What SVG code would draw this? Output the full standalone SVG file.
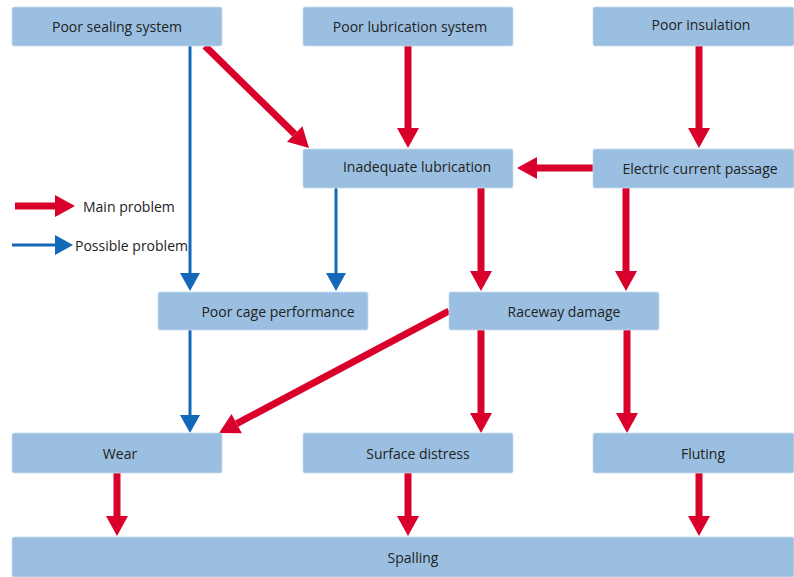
<svg xmlns="http://www.w3.org/2000/svg" width="794" height="577" viewBox="0 0 794 577">
<defs>
<marker id="hr" markerUnits="userSpaceOnUse" markerWidth="20" markerHeight="22" refX="0" refY="11" orient="auto" overflow="visible"><path d="M0,0 L20,11 L0,22 Z" fill="#d9002b"/></marker>
<marker id="hb" markerUnits="userSpaceOnUse" markerWidth="18" markerHeight="20" refX="0" refY="10" orient="auto" overflow="visible"><path d="M0,0 L18,10 L0,20 Z" fill="#1468b8"/></marker>
</defs>
<style>
.box{fill:#9bbfe0;stroke:#c7dbef;stroke-width:0.8}
.t{font-family:"Open Sans","Liberation Sans",sans-serif;font-size:14px;fill:#222;text-anchor:middle}
.lt{font-family:"Open Sans","Liberation Sans",sans-serif;font-size:14px;fill:#222}
.r{stroke:#d9002b;stroke-width:7;fill:none;marker-end:url(#hr)}
.b{stroke:#1468b8;stroke-width:3;fill:none;marker-end:url(#hb)}
</style>
<rect width="794" height="577" fill="#fff"/>
<g id="connectors">
<line class="b" x1="190" y1="46" x2="190" y2="273"/>
<line class="b" x1="336" y1="188" x2="336" y2="273"/>
<line class="b" x1="190" y1="330" x2="190" y2="415"/>
<line class="r" x1="205" y1="46" x2="294.7" y2="134"/>
<line class="r" x1="408" y1="46" x2="408" y2="128"/>
<line class="r" x1="699" y1="46" x2="699" y2="128"/>
<line class="r" x1="593" y1="168" x2="537" y2="168"/>
<line class="r" x1="481" y1="188" x2="481" y2="271"/>
<line class="r" x1="626" y1="188" x2="626" y2="271"/>
<line class="r" x1="449" y1="311" x2="236.7" y2="423.6"/>
<line class="r" x1="481" y1="330" x2="481" y2="413"/>
<line class="r" x1="627" y1="330" x2="627" y2="413"/>
<line class="r" x1="117" y1="473" x2="117" y2="516"/>
<line class="r" x1="408" y1="473" x2="408" y2="516"/>
<line class="r" x1="699" y1="473" x2="699" y2="516"/>
</g>
<g id="legend">
<line class="r" x1="15" y1="206" x2="55" y2="206"/>
<text class="lt" x="83" y="212">Main problem</text>
<line class="b" x1="12" y1="245" x2="55" y2="245"/>
<text class="lt" x="75" y="251">Possible problem</text>
</g>
<g id="n-sealing"><rect class="box" x="12" y="7" width="210" height="39" rx="2"/><text class="t" x="117" y="32">Poor sealing system</text></g>
<g id="n-lubsys"><rect class="box" x="303" y="7" width="210" height="39" rx="2"/><text class="t" x="410" y="32">Poor lubrication system</text></g>
<g id="n-insulation"><rect class="box" x="593" y="7" width="201" height="39" rx="2"/><text class="t" x="701" y="30">Poor insulation</text></g>
<g id="n-inadequate"><rect class="box" x="303" y="149" width="210" height="39" rx="2"/><text class="t" x="417" y="172">Inadequate lubrication</text></g>
<g id="n-electric"><rect class="box" x="593" y="149" width="201" height="39" rx="2"/><text class="t" x="700" y="174">Electric current passage</text></g>
<g id="n-cage"><rect class="box" x="158" y="292" width="210" height="38" rx="2"/><text class="t" x="278" y="317">Poor cage performance</text></g>
<g id="n-raceway"><rect class="box" x="449" y="292" width="210" height="38" rx="2"/><text class="t" x="564" y="317">Raceway damage</text></g>
<g id="n-wear"><rect class="box" x="12" y="433" width="210" height="40" rx="2"/><text class="t" x="120" y="459">Wear</text></g>
<g id="n-surface"><rect class="box" x="303" y="433" width="210" height="40" rx="2"/><text class="t" x="418" y="459">Surface distress</text></g>
<g id="n-fluting"><rect class="box" x="593" y="433" width="201" height="40" rx="2"/><text class="t" x="703" y="459">Fluting</text></g>
<g id="n-spalling"><rect class="box" x="12" y="537" width="782" height="40" rx="2"/><text class="t" x="413" y="563">Spalling</text></g>
</svg>
